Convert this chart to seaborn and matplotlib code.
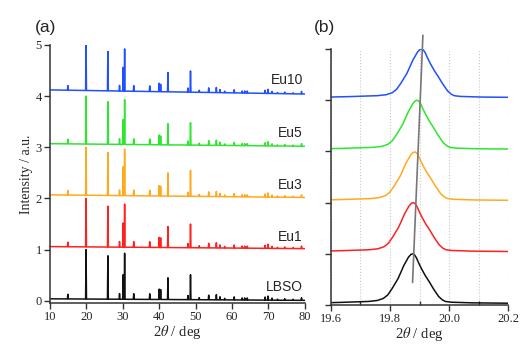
import numpy as np
import pandas as pd
import seaborn as sns
import matplotlib
matplotlib.use('Agg')
import matplotlib.pyplot as plt
from matplotlib.ticker import MultipleLocator

# ---- panel (a): XRD patterns, stacked ----
names = ['LBSO', 'Eu1', 'Eu3', 'Eu5', 'Eu10']
colors = ['#111111', '#ff2020', '#ffaa1e', '#2ee62e', '#2050ff']

# baseline level at 10 and 80 deg
base_start = [0.04, 1.06, 2.07, 3.07, 4.12]
base_end = [0.01, 1.02, 2.02, 3.02, 4.04]

# strong reflections: absolute peak tops for each pattern
major_pos = [19.9, 25.9, 30.1, 30.5, 40.0, 40.4, 42.4, 48.6]
major_top = {
    'LBSO': [1.00, 0.88, 0.51, 0.93, 0.23, 0.22, 0.45, 0.51],
    'Eu1':  [2.00, 1.85, 1.52, 1.89, 1.24, 1.23, 1.45, 1.50],
    'Eu3':  [3.00, 2.90, 2.62, 2.96, 2.25, 2.24, 2.50, 2.55],
    'Eu5':  [4.00, 3.89, 3.54, 3.93, 3.24, 3.22, 3.46, 3.48],
    'Eu10': [5.00, 4.87, 4.56, 4.92, 4.25, 4.23, 4.46, 4.49],
}

# weak reflections: height above baseline (same for all)
minor_pos = [14.9, 29.1, 33.0, 37.4, 47.9, 51.0, 53.6, 55.7, 56.7, 58.0,
             60.6, 62.8, 63.5, 64.2, 69.1, 69.9, 71.0, 72.5, 74.5, 76.8, 79.1]
minor_h = [0.09, 0.11, 0.11, 0.11, 0.08, 0.04, 0.09, 0.10, 0.06, 0.03,
           0.06, 0.04, 0.04, 0.04, 0.06, 0.08, 0.04, 0.02, 0.03, 0.02, 0.05]

# ---- panel (b): zoom on the ~19.9 deg reflection ----
b_center = [19.877, 19.879, 19.884, 19.892, 19.907]
b_base = [0.03, 1.04, 2.04, 3.04, 4.05]
b_top = [1.00, 2.00, 2.99, 4.00, 5.00]
prof_dx = [-0.40, -0.25, -0.15, -0.12, -0.10, -0.085, -0.07, -0.05, -0.03, -0.015,
           -0.007, 0.0, 0.006, 0.012, 0.02, 0.03, 0.042, 0.055, 0.07, 0.087,
           0.10, 0.11, 0.13, 0.20, 0.40]
prof_y = [0.0, 0.02, 0.04, 0.06, 0.10, 0.17, 0.30, 0.50, 0.77, 0.93,
          0.985, 1.0, 0.975, 0.92, 0.81, 0.69, 0.56, 0.44, 0.29, 0.14,
          0.07, 0.04, 0.025, 0.012, 0.0]
guide_x = [19.876, 19.911]
guide_y = [0.44, 5.27]


def pattern(i, name):
    peaks = [(p, t, True) for p, t in zip(major_pos, major_top[name])]
    peaks += [(p, h, False) for p, h in zip(minor_pos, minor_h)]
    peaks.sort()
    w = 0.12
    xs = [10.0]
    for p, v, absolute in peaks:
        xs += [p - w, p, p + w]
    xs.append(80.0)
    xs = np.array(xs)
    base = np.interp(xs, [10, 80], [base_start[i], base_end[i]])
    ys = base.copy()
    k = 1
    for p, v, absolute in peaks:
        ys[k + 1] = v if absolute else base[k + 1] + v
        k += 3
    return xs, ys


sns.set_style('ticks')
plt.rcParams['font.family'] = ['Liberation Sans', 'DejaVu Sans']
plt.rcParams['mathtext.fontset'] = 'stix'
serif = 'Liberation Serif'

fig = plt.figure(figsize=(5.21, 3.45), dpi=100)
ax1 = fig.add_axes([0.096, 0.122, 0.489, 0.748])
ax2 = fig.add_axes([0.635, 0.116, 0.341, 0.742])

for i, name in enumerate(names):
    xs, ys = pattern(i, name)
    sns.lineplot(x=xs, y=ys, ax=ax1, color=colors[i], lw=1.1,
                 sort=False, estimator=None)

label_y = [0.27, 1.25, 2.27, 3.28, 4.32]
for i, name in enumerate(names):
    ax1.text(79.5, label_y[i], name, ha='right', va='center', fontsize=10)

ax1.set_xlim(10, 80)
ax1.set_ylim(-0.04, 5)
ax1.xaxis.set_major_locator(MultipleLocator(10))
ax1.yaxis.set_major_locator(MultipleLocator(1))
ax1.set_xlabel('2$\\theta$ / deg', family=serif, fontsize=10.5, labelpad=0)
ax1.set_ylabel('Intensity / a.u.', family=serif, fontsize=10, labelpad=2)

for i in range(len(names)):
    bx = np.array(prof_dx) + b_center[i]
    by = b_base[i] + (b_top[i] - b_base[i]) * np.array(prof_y)
    sns.lineplot(x=bx, y=by, ax=ax2, color=colors[i], lw=1.1,
                 sort=False, estimator=None)
ax2.plot(guide_x, guide_y, color='#777777', lw=1.2, clip_on=False)

ax2.set_xlim(19.6, 20.2)
ax2.set_ylim(0, 5)
ax2.xaxis.set_major_locator(MultipleLocator(0.2))
ax2.xaxis.set_minor_locator(MultipleLocator(0.1))
ax2.yaxis.set_major_locator(MultipleLocator(1))
ax2.set_yticklabels([])
ax2.grid(axis='x', which='both', color='#c8c8c8', ls=':', lw=0.8)
ax2.set_xlabel('2$\\theta$ / deg', family=serif, fontsize=10.5, labelpad=0)

for ax in (ax1, ax2):
    sns.despine(ax=ax)
    for s in ('left', 'bottom'):
        ax.spines[s].set_color('#333333')
        ax.spines[s].set_linewidth(1.1)
    ax.tick_params(which='major', length=4, width=1, color='#333333',
                   labelsize=9, labelfontfamily=serif, pad=2)
ax2.tick_params(which='minor', axis='x', direction='in', length=3, width=1,
                color='#333333')

fig.text(0.067, 0.92, '(a)', fontsize=12.5, ha='left', va='center')
fig.text(0.603, 0.92, '(b)', fontsize=12.5, ha='left', va='center')

fig.savefig('out.png', dpi=100)
